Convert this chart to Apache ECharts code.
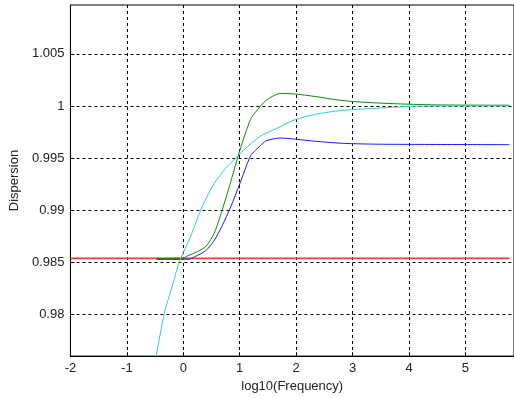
<!DOCTYPE html>
<html>
<head>
<meta charset="utf-8">
<script src="https://cdn.jsdelivr.net/npm/echarts@6/dist/echarts.min.js"></script>
<style>
  html, body { margin: 0; padding: 0; background: #fff; }
  #chart { width: 514px; height: 398px; }
</style>
</head>
<body>
<div id="chart"></div>
<script>
// tick labels
const xTicks = [-2, -1, 0, 1, 2, 3, 4, 5]
const yTicks = [0.98, 0.985, 0.99, 0.995, 1, 1.005]

// curves: [log10(freq), dispersion]
const redLine = [[-2, 0.98535], [5.78, 0.98535]]
const blueLine = [
  [-0.48, 0.98525], [0.1, 0.98528], [0.2, 0.9855], [0.4, 0.9861], [0.55, 0.9871],
  [0.69, 0.9885], [0.84, 0.9903], [1.0, 0.9925], [1.19, 0.9952], [1.28, 0.99575],
  [1.37, 0.9962], [1.46, 0.99663], [1.72, 0.99692], [1.99, 0.9968], [2.35, 0.9966],
  [2.7, 0.99645], [2.96, 0.99638], [3.49, 0.99632], [5.78, 0.99628]
]
const greenLine = [
  [-0.48, 0.98535], [0.0, 0.98538], [0.08, 0.9856], [0.25, 0.986], [0.4, 0.9865],
  [0.55, 0.9878], [0.69, 0.99], [0.84, 0.9927], [1.0, 0.9957], [1.19, 0.9987],
  [1.28, 0.9994], [1.46, 1.0005], [1.72, 1.0012], [1.99, 1.00114], [2.35, 1.0009],
  [2.7, 1.0006], [3.02, 1.00042], [3.66, 1.00023], [4.49, 1.0001], [5.78, 1.00007]
]
const cyanLine = [
  [-0.5, 0.9755], [-0.48, 0.976], [-0.335, 0.9801], [-0.19, 0.9828], [-0.07, 0.98506],
  [0.0, 0.9859], [0.14, 0.9876], [0.31, 0.99], [0.45, 0.9916], [0.58, 0.9928],
  [0.75, 0.994], [0.93, 0.995], [1.14, 0.9961], [1.37, 0.9971], [1.64, 0.9978],
  [1.99, 0.9987], [2.35, 0.9992], [2.7, 0.9995], [3.02, 0.99965], [3.66, 0.99985],
  [4.13, 0.99998], [5.78, 1.0]
]

const chart = echarts.init(document.getElementById('chart'), null, { renderer: 'canvas' })

const font = { fontFamily: 'Liberation Sans, Arial, sans-serif', fontSize: 13, color: '#222' }
const gridLine = { show: true, lineStyle: { color: '#000', type: [3, 3], width: 1 } }

const mkLine = (data, color, width, smooth) => ({
  type: 'line',
  data: data,
  showSymbol: false,
  smooth: smooth,
  lineStyle: { color: color, width: width },
  itemStyle: { color: color },
  animation: false
})

chart.setOption({
  backgroundColor: '#fff',
  animation: false,
  grid: {
    left: 69, right: 0, top: 5, bottom: 40,
    show: true, borderColor: '#000', borderWidth: 1, backgroundColor: '#fff'
  },
  xAxis: {
    type: 'value',
    min: -2,
    max: 5.86,
    name: 'log10(Frequency)',
    nameLocation: 'middle',
    nameGap: 22,
    nameTextStyle: font,
    axisLine: { show: true, onZero: false, lineStyle: { color: '#000' } },
    axisTick: { show: true, inside: true, length: 4, lineStyle: { color: '#000' }, customValues: xTicks },
    axisLabel: { ...font, margin: 6, customValues: xTicks },
    splitLine: gridLine
  },
  yAxis: {
    type: 'value',
    min: 0.97596,
    max: 1.0097,
    name: 'Dispersion',
    nameLocation: 'middle',
    nameGap: 48,
    nameTextStyle: font,
    axisLine: { show: true, onZero: false, lineStyle: { color: '#000' } },
    axisTick: { show: true, inside: true, length: 4, lineStyle: { color: '#000' }, customValues: yTicks },
    axisLabel: {
      ...font, margin: 6, customValues: yTicks,
      formatter: v => String(+v.toFixed(3))
    },
    splitLine: gridLine
  },
  series: [
    mkLine(redLine, '#ff3b3b', 1.6, false),
    mkLine(blueLine, '#1a1aff', 1, 0.25),
    mkLine(greenLine, '#0a8a0a', 1, 0.25),
    mkLine(cyanLine, '#2fcfcf', 1, 0.25)
  ]
})
</script>
</body>
</html>
